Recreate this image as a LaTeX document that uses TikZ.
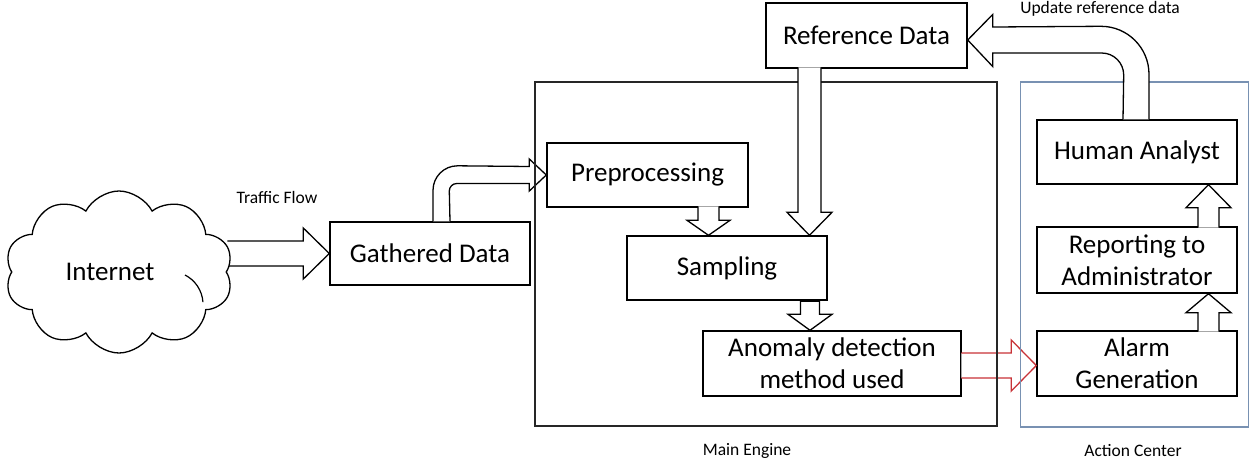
\documentclass[tikz,border=0pt]{standalone}
\usepackage{fontspec}
\setmainfont{Carlito}
\usetikzlibrary{shapes.symbols,calc}
\definecolor{acblue}{RGB}{120,145,178}
\definecolor{redarr}{RGB}{200,50,55}
\tikzset{
  box/.style={draw=black, line width=1.4pt, fill=white, rectangle, inner sep=2pt,
    font=\fontsize{27}{32}\selectfont, align=center},
  blk/.style={draw=black, line width=1.3pt, fill=white, line join=miter},
  lbl/.style={font=\fontsize{17.5}{20}\selectfont, inner sep=0pt},
  frame/.style={draw, line width=1.4pt, rectangle},
}
% right-pointing block arrow: tip, length, shaft half, head half, head length
\newcommand{\blkR}[6][]{\draw[blk,#1] ($(#2)+(-#3,-#4)$) -- ($(#2)+(-#6,-#4)$) -- ($(#2)+(-#6,-#5)$) -- (#2) -- ($(#2)+(-#6,#5)$) -- ($(#2)+(-#6,#4)$) -- ($(#2)+(-#3,#4)$);}
% down-pointing block arrow
\newcommand{\blkD}[6][]{\draw[blk,#1] ($(#2)+(-#4,-#3)$) -- ($(#2)+(-#4,-#6)$) -- ($(#2)+(-#5,-#6)$) -- (#2) -- ($(#2)+(#5,-#6)$) -- ($(#2)+(#4,-#6)$) -- ($(#2)+(#4,-#3)$);}
% up-pointing block arrow
\newcommand{\blkU}[6][]{\draw[blk,#1] ($(#2)+(-#4,#3)$) -- ($(#2)+(-#4,#6)$) -- ($(#2)+(-#5,#6)$) -- (#2) -- ($(#2)+(#5,#6)$) -- ($(#2)+(#4,#6)$) -- ($(#2)+(#4,#3)$);}
\begin{document}
\begin{tikzpicture}[x=1pt,y=-1pt]
\useasboundingbox (0,0) rectangle (1250,466);

% boxes
\node[box, minimum width=200, minimum height=63] (gd) at (430,253.5) {Gathered Data};
\node[box, minimum width=201, minimum height=64] (pre) at (647.5,175) {Preprocessing};
\node[box, minimum width=201, minimum height=65] (ref) at (866.5,35.5) {Reference Data};
\node[box, minimum width=200, minimum height=64] (human) at (1137,152) {Human Analyst};
\node[box, minimum width=200, minimum height=66] (report) at (1137,260) {Reporting to\\Administrator};
\node[box, minimum width=200, minimum height=65] (alarm) at (1137,363.5) {Alarm\\Generation};
\node[box, minimum width=258, minimum height=65] (anom) at (832,363.5) {Anomaly detection\\method used};

% red arrow (drawn below frames)
\coordinate (rt) at ($(alarm.west)+(0,2)$);
\blkR[draw=redarr]{rt}{75}{12.5}{25.5}{25}

% curved arrow gathered -> preprocessing
\coordinate (gA) at ($(gd.north)+(3,0)$);
\coordinate (gB) at ($(gd.north)+(20,0)$);
\draw[blk] (gA) -- ++(0,-31) arc[start angle=180,end angle=270,radius=24.5]
  -- ($(pre.west)+(-17,-8.5)$) -- ($(pre.west)+(-17,-16)$) -- (pre.west)
  -- ($(pre.west)+(-17,16)$) -- ($(pre.west)+(-17,8.5)$) -- ++(-72.5,0)
  arc[start angle=-90,end angle=-180,radius=7.5] -- (gB);

% frames
\node[frame, draw=black!85, minimum width=462, minimum height=344] (main) at (766,254) {};
\node[frame, draw=acblue, line width=1.2pt, minimum width=228, minimum height=345] (action) at (1134.5,254.5) {};

\node[box, minimum width=200, minimum height=64] (samp) at (727,268) {Sampling};

% traffic arrow and cloud
\blkR{gd.west}{102}{12.5}{25.5}{26}
\node[cloud, draw, line width=1.3pt, fill=white, cloud puffs=10, cloud puff arc=125, aspect=1.45,
  minimum width=228, minimum height=162, font=\fontsize{27}{32}\selectfont] (cloud) at (119,272) {Internet\hspace*{18pt}};
% inner crease of the cloud
\draw[line width=1.2pt] ($(cloud.center)+(66,3)$) arc[start angle=-63,end angle=-4,radius=33];

% pre -> sampling
\coordinate (t2) at ($(samp.north)+(-18.5,0)$);
\blkD{t2}{29}{10.5}{21.5}{15}
% reference -> sampling
\coordinate (t3) at ($(samp.north)+(82.5,0)$);
\blkD{t3}{168}{11.5}{22.5}{23}
% sampling -> anomaly
\coordinate (t4) at ($(anom.north)+(-22,0)$);
\draw[blk] ($(t4)+(-9.5,-29)$) -- ($(t4)+(-9.5,-16)$) -- ($(t4)+(-22,-16)$) -- (t4) -- ($(t4)+(22,-16)$) -- ($(t4)+(9.5,-16)$) -- ($(t4)+(9.5,-29)$) -- cycle;
% alarm -> report, report -> human
\coordinate (t5) at ($(report.south)+(71.5,0)$);
\blkU{t5}{38}{10.5}{22.5}{19}
\coordinate (t6) at ($(human.south)+(71.5,0)$);
\blkU{t6}{43}{10.5}{22.5}{23}

% update reference data arrow
\coordinate (hA) at ($(human.north)+(12,0)$);
\coordinate (hB) at ($(human.north)+(-14,0)$);
\draw[blk] (hA) -- ++(0,-45) arc[start angle=0,end angle=-90,radius=48]
  -- ($(ref.east)+(25,-8.5)$) -- ($(ref.east)+(25,-21)$) -- ($(ref.east)+(0,4.5)$)
  -- ($(ref.east)+(25,31)$) -- ($(ref.east)+(25,17.5)$) -- ++(109,0)
  arc[start angle=-90,end angle=0,radius=22] -- (hB);

% labels
\node[lbl] (tf) at (277,197) {Traffic Flow};
\node[lbl] (urd) at (1100,9) {Update reference data};
\node[lbl] (me) at (747,451) {Main Engine};
\node[lbl] (ac) at (1133,451) {Action Center};
\end{tikzpicture}
\end{document}
